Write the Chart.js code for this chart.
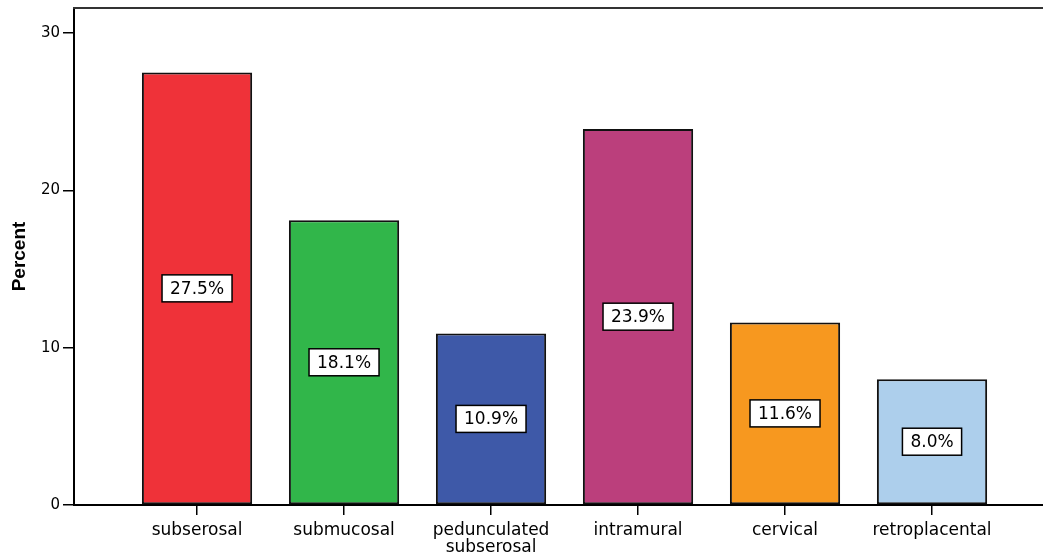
<!DOCTYPE html>
<html>
<head>
<meta charset="utf-8">
<script src="https://cdn.jsdelivr.net/npm/chart.js@4.4.1/dist/chart.umd.min.js"></script>
<style>
  html, body { margin: 0; padding: 0; background: #fff; overflow: hidden; }
  #wrap { width: 1043px; height: 552px; position: relative; }
</style>
</head>
<body>
<div id="wrap"><canvas id="chart"></canvas></div>
<script>
// Fibroid location, share of cases (%)
const categories = ['subserosal', 'submucosal', ['pedunculated', 'subserosal'], 'intramural', 'cervical', 'retroplacental'];
const percents = [27.5, 18.1, 10.9, 23.9, 11.6, 8.0];
const barColors = ['#EF3239', '#31B64A', '#3E59A8', '#BB3F7C', '#F7981F', '#ADCFEC'];
const yTicks = [0, 10, 20, 30];

const points = percents.map((v, i) => ({ x: i + 1, y: v }));

// Frame line along the top of the plot area
const topFrame = {
  id: 'topFrame',
  afterDraw(chart) {
    const { ctx, chartArea } = chart;
    ctx.save();
    ctx.strokeStyle = '#333';
    ctx.lineWidth = 2;
    ctx.beginPath();
    ctx.moveTo(chartArea.left - 1, chartArea.top);
    ctx.lineTo(chartArea.right, chartArea.top);
    ctx.stroke();
    ctx.restore();
  }
};

// Boxed percentage label in the middle of each bar
const boxedLabels = {
  id: 'boxedLabels',
  afterDatasetsDraw(chart) {
    const { ctx } = chart;
    const meta = chart.getDatasetMeta(0);
    ctx.save();
    ctx.font = '17px "DejaVu Sans"';
    ctx.textAlign = 'center';
    ctx.textBaseline = 'middle';
    meta.data.forEach((bar, i) => {
      const text = percents[i].toFixed(1) + '%';
      const w = ctx.measureText(text).width + 16;
      const h = 27;
      const cx = bar.x;
      const cy = (bar.y + bar.base) / 2;
      ctx.fillStyle = '#fff';
      ctx.fillRect(cx - w / 2, cy - h / 2, w, h);
      ctx.strokeStyle = '#000';
      ctx.lineWidth = 1.5;
      ctx.strokeRect(cx - w / 2, cy - h / 2, w, h);
      ctx.fillStyle = '#000';
      ctx.fillText(text, cx, cy + 1);
    });
    ctx.restore();
  }
};

new Chart(document.getElementById('chart'), {
  type: 'bar',
  data: {
    datasets: [{
      data: points,
      backgroundColor: barColors,
      borderColor: '#111',
      borderWidth: 2,
      borderSkipped: false,
      barPercentage: 0.75,
      categoryPercentage: 1.0
    }]
  },
  options: {
    responsive: true,
    maintainAspectRatio: false,
    animation: false,
    layout: { padding: { top: 8, left: 0, right: 0, bottom: 0 } },
    plugins: {
      legend: { display: false },
      tooltip: { enabled: false }
    },
    scales: {
      x: {
        type: 'linear',
        offset: false,
        min: 0.163,
        max: 6.755,
        afterBuildTicks(scale) {
          scale.ticks = categories.map((c, i) => ({ value: i + 1 }));
        },
        afterFit(scale) { scale.height = 47; scale.paddingLeft = 0; scale.paddingRight = 0; },
        ticks: {
          autoSkip: false,
          maxRotation: 0,
          padding: 7,
          color: '#000',
          font: { family: '"DejaVu Sans"', size: 17, lineHeight: 1.0 },
          callback: (v) => categories[Math.round(v) - 1]
        },
        grid: {
          display: true,
          offset: false,
          drawOnChartArea: false,
          drawTicks: true,
          tickLength: 10,
          color: '#000',
          lineWidth: 1.5
        },
        border: { display: true, color: '#000', width: 2 }
      },
      y: {
        min: 0,
        max: 31.6,
        afterBuildTicks(scale) {
          scale.ticks = yTicks.map(v => ({ value: v }));
        },
        afterFit(scale) { scale.width = 74; scale.paddingTop = 0; scale.paddingBottom = 0; },
        ticks: {
          padding: 3,
          color: '#000',
          font: { family: '"DejaVu Sans"', size: 15 }
        },
        grid: {
          display: true,
          drawOnChartArea: false,
          drawTicks: true,
          tickLength: 11,
          color: '#000',
          lineWidth: 1.5
        },
        border: { display: true, color: '#000', width: 2 },
        title: {
          display: true,
          text: 'Percent',
          color: '#000',
          font: { family: '"Liberation Sans", Arial', size: 19, weight: 'bold', lineHeight: 1.2 },
          padding: { top: 8, bottom: 0 }
        }
      }
    }
  },
  plugins: [topFrame, boxedLabels]
});
</script>
</body>
</html>
